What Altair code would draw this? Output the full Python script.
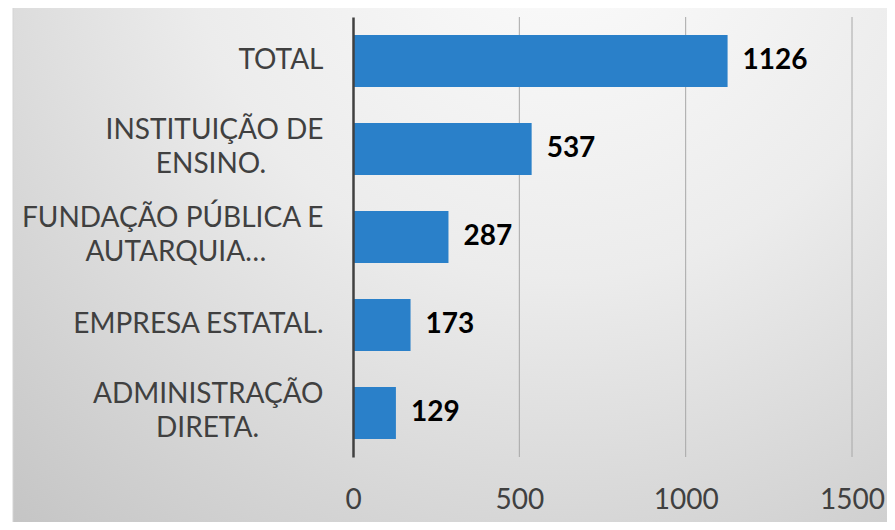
import altair as alt
import pandas as pd

# ---- data ----
categories = [
    "TOTAL",
    "INSTITUIÇÃO DE ENSINO.",
    "FUNDAÇÃO PÚBLICA E AUTARQUIA…",
    "EMPRESA ESTATAL.",
    "ADMINISTRAÇÃO DIRETA.",
]
values = [1126, 537, 287, 173, 129]
x_ticks = [0, 500, 1000, 1500]

# ---- label line layout (styling only) ----
NB = "\u00a0"
WJ = "\u2060"
line_breaks = {
    "INSTITUIÇÃO DE ENSINO.": ("INSTITUIÇÃO DE", "ENSINO.", 8),
    "FUNDAÇÃO PÚBLICA E AUTARQUIA…": ("FUNDAÇÃO PÚBLICA E", "AUTARQUIA…", 8),
    "ADMINISTRAÇÃO DIRETA.": ("ADMINISTRAÇÃO", "DIRETA.", 9),
}


def display(c):
    if c in line_breaks:
        a, b, p = line_breaks[c]
        return a + "|" + b + NB * p + WJ
    return c


df = pd.DataFrame({"cat": categories, "value": values})
df["label"] = [display(c) for c in categories]
label_order = [display(c) for c in categories]

FONT = "Lato"
LABEL_COLOR = "#404040"
BAR_COLOR = "#2a80c9"

W, H = 499, 440

bg = alt.Chart(alt.Data(values=[{}])).mark_rect(
    fill=alt.RadialGradient(
        gradient="radial",
        stops=[
            alt.GradientStop(offset=0, color="#fdfdfd"),
            alt.GradientStop(offset=0.45, color="#ececec"),
            alt.GradientStop(offset=1, color="#c4c4c4"),
        ],
        x1=0.62, y1=0.08, r1=0,
        x2=0.62, y2=0.08, r2=0.95,
    ),
    stroke="#d4d4d4",
    strokeWidth=1,
).encode(
    x=alt.value(-340), x2=alt.value(545), y=alt.value(-10), y2=alt.value(515)
)

x_axis = alt.Axis(
    title=None,
    values=x_ticks,
    format="d",
    grid=False,
    ticks=False,
    domain=False,
    labelFont=FONT,
    labelFontSize=28,
    labelColor=LABEL_COLOR,
    labelPadding=29,
    labelBaseline="top",
    labelFlush=False,
    zindex=2,
)
x_scale = alt.Scale(domain=[0, 1500], nice=False)

grid = alt.Chart(pd.DataFrame({"t": x_ticks[1:]})).mark_rule(
    color="#a8a8a8", strokeWidth=1
).encode(
    x=alt.X("t:Q", scale=x_scale, axis=x_axis),
    y=alt.value(0), y2=alt.value(H),
)

yenc = alt.Y(
    "label:N",
    sort=label_order,
    scale=alt.Scale(paddingInner=0.41, paddingOuter=0.205),
    axis=alt.Axis(
        title=None,
        ticks=False,
        grid=False,
        domain=True,
        domainColor=LABEL_COLOR,
        domainWidth=2.5,
        labelExpr="split(datum.value, '|')",
        labelFont=FONT,
        labelFontSize=28,
        labelColor=LABEL_COLOR,
        labelPadding=30,
        labelLineHeight=34,
        labelAlign="right",
        labelLimit=400,
        labelOffset={
            "condition": {"test": "indexof(datum.value, '|') >= 0", "value": -18},
            "value": 0,
        },
        zindex=2,
    ),
)

bars = alt.Chart(df).mark_bar(color=BAR_COLOR).encode(
    x=alt.X("value:Q", scale=x_scale, axis=x_axis), y=yenc
)

text = alt.Chart(df).mark_text(
    align="left", baseline="middle", dx=15,
    font=FONT, fontSize=28, fontWeight="bold", color="#000000",
).encode(
    x=alt.X("value:Q"), y=alt.Y("label:N", sort=label_order), text="value:Q"
)

chart = alt.layer(bg, grid, bars, text).properties(
    width=W, height=H,
    autosize=alt.AutoSizeParams(type="none"),
    padding={"left": 345, "top": 9, "right": 35, "bottom": 65},
).configure_view(stroke=None).configure(background="#ffffff")

chart.save("out.html", embed_options={"renderer": "svg", "actions": False})
